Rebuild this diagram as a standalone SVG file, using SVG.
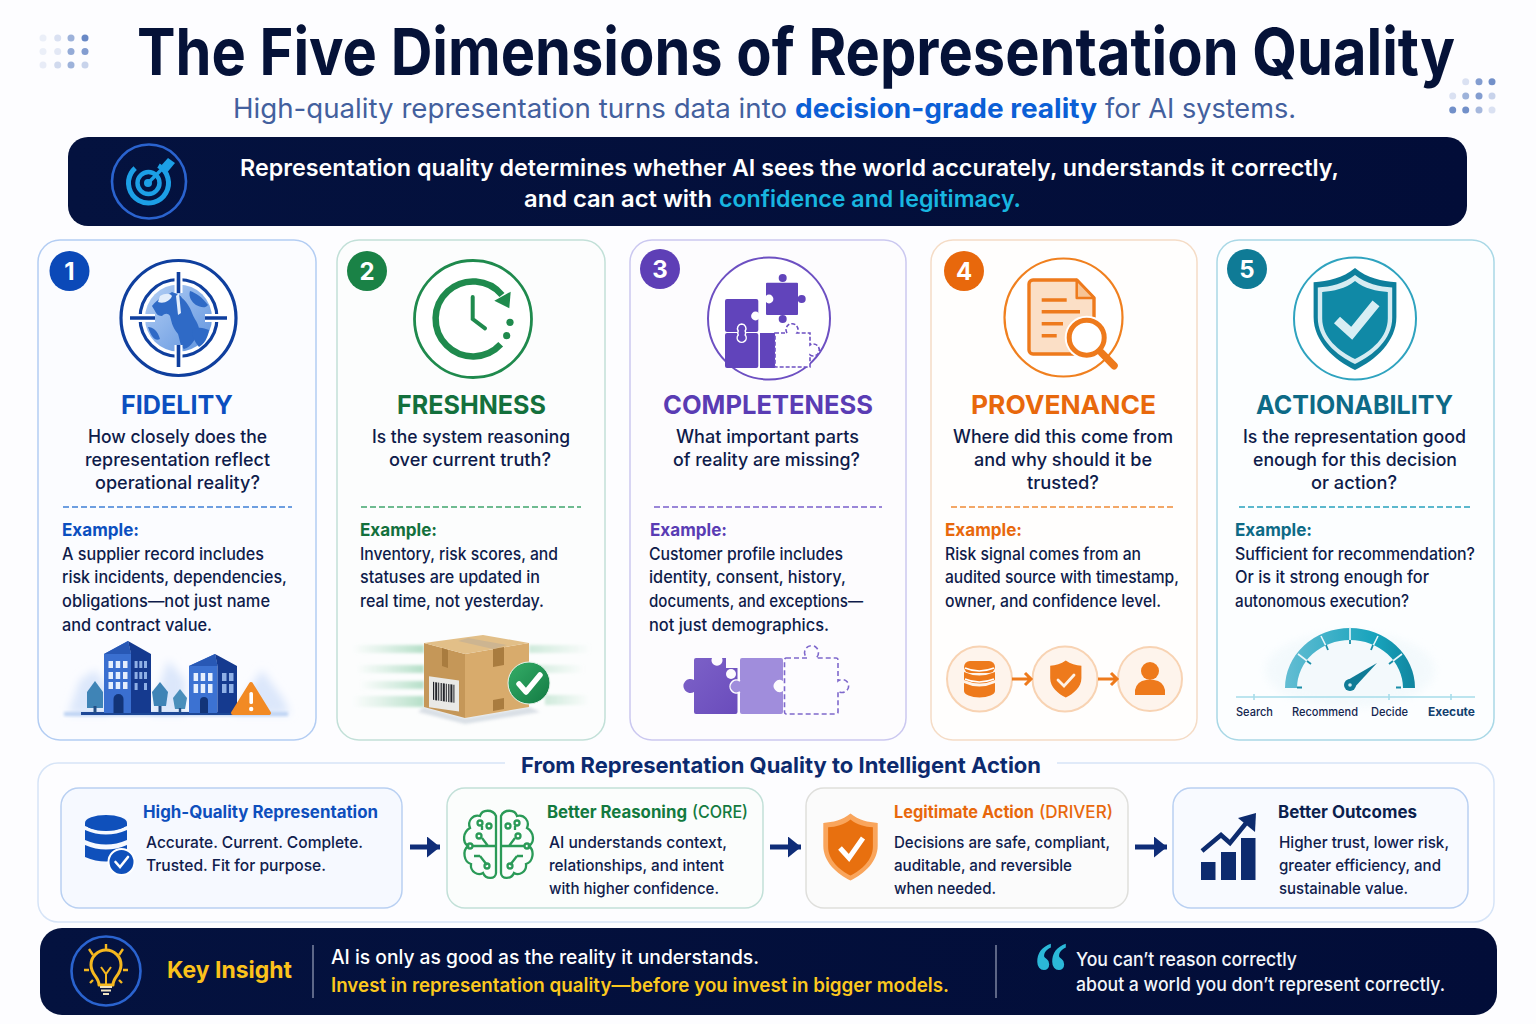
<svg xmlns="http://www.w3.org/2000/svg" width="1536" height="1024" viewBox="0 0 1536 1024">
<defs>
<style>
text{font-family:Inter,"Noto Sans","Liberation Sans",sans-serif}
.card{stroke-width:1.5}
.badge{font-size:24px;font-weight:700;fill:#fff;text-anchor:middle}
.t{font-size:26px;font-weight:700}
.q{font-size:18px;fill:#0e1b4a;font-weight:500}
.ex{font-size:17.5px;font-weight:700}
.b{font-size:16.8px;fill:#0e1b4a;font-weight:500}
.h{font-size:17px;font-weight:700}
.hr{font-size:17px;font-weight:500}
.fb{font-size:16.4px;fill:#10204d;font-weight:500}
.gl{font-size:12px;fill:#14264f;font-weight:500}
.dash{stroke-width:1.6;stroke-dasharray:6 3;fill:none}
</style>
<linearGradient id="dark" x1="0" x2="1" y1="0" y2="0"><stop offset="0" stop-color="#04123f"/><stop offset="1" stop-color="#020d38"/></linearGradient>
<linearGradient id="sl" x1="0" x2="1"><stop offset="0" stop-color="#bfe3cf" stop-opacity="0"/><stop offset="1" stop-color="#b5dfc8"/></linearGradient>
<linearGradient id="sr" x1="0" x2="1"><stop offset="0" stop-color="#cfeadb"/><stop offset="1" stop-color="#cfeadb" stop-opacity="0"/></linearGradient>
<linearGradient id="gauge" x1="0" x2="1"><stop offset="0" stop-color="#63bdd3"/><stop offset=".7" stop-color="#17a3bc"/><stop offset="1" stop-color="#12859f"/></linearGradient>
<linearGradient id="globe" x1="0" x2="1" y1="0" y2="1"><stop offset="0" stop-color="#b5d0f5"/><stop offset="1" stop-color="#5f93de"/></linearGradient>
<linearGradient id="ctick" x1="0" x2="1" y1="0" y2="1"><stop offset="0" stop-color="#35ae68"/><stop offset="1" stop-color="#137a43"/></linearGradient>
<linearGradient id="pf" x1="0" x2="1" y1="0" y2="1"><stop offset="0" stop-color="#7d62c8"/><stop offset="1" stop-color="#6a4cbc"/></linearGradient>
<filter id="soft" x="-20%" y="-20%" width="140%" height="140%"><feGaussianBlur stdDeviation="4"/></filter>
<filter id="soft2" x="-20%" y="-50%" width="140%" height="200%"><feGaussianBlur stdDeviation="1.6"/></filter>
<path id="shield" d="M0-50C12-40 26-37 40-36V-2C40 22 20 40 0 50C-20 40-40 22-40-2V-36C-26-37-12-40 0-50Z"/>
<marker id="arr" viewBox="0 0 13 21" markerWidth="13" markerHeight="21" refX="13" refY="10.5" orient="auto" markerUnits="userSpaceOnUse"><path d="M0 0L13 10.5L0 21Z" fill="#0f2d78"/></marker>
</defs>
<rect width="1536" height="1024" fill="#fdfdff"/>

<g id="header">
<g id="dots-left" fill="#4f74bc">
<circle cx="43" cy="38" r="3.5" opacity=".1"/><circle cx="57.7" cy="38" r="3.5" opacity=".2"/><circle cx="71" cy="38" r="3.5" opacity=".55"/><circle cx="85" cy="38" r="3.5" opacity=".85"/>
<circle cx="43" cy="51.5" r="3.5" opacity=".1"/><circle cx="57.7" cy="51.5" r="3.5" opacity=".15"/><circle cx="71" cy="51.5" r="3.5" opacity=".6"/><circle cx="85" cy="51.5" r="3.5" opacity=".7"/>
<circle cx="43" cy="65" r="3.5" opacity=".12"/><circle cx="57.7" cy="65" r="3.5" opacity=".25"/><circle cx="71" cy="65" r="3.5" opacity=".55"/><circle cx="85" cy="65" r="3.5" opacity=".3"/>
</g>
<g id="dots-right" fill="#4f74bc">
<circle cx="1465.7" cy="81.7" r="3.5" opacity=".2"/><circle cx="1479" cy="81.7" r="3.5" opacity=".7"/><circle cx="1492" cy="81.7" r="3.5" opacity=".8"/>
<circle cx="1452.7" cy="96" r="3.5" opacity=".2"/><circle cx="1465.7" cy="96" r="3.5" opacity=".55"/><circle cx="1479" cy="96" r="3.5" opacity=".7"/><circle cx="1492" cy="96" r="3.5" opacity=".3"/>
<circle cx="1452.7" cy="110" r="3.5" opacity=".8"/><circle cx="1465.7" cy="110" r="3.5" opacity=".8"/><circle cx="1479" cy="110" r="3.5" opacity=".5"/><circle cx="1492" cy="110" r="3.5" opacity=".2"/>
</g>
<text transform="translate(137 75) scale(1 1.07)" x="0" y="0" font-size="61" font-weight="700" fill="#051238" textLength="1318" lengthAdjust="spacingAndGlyphs">The Five Dimensions of Representation Quality</text>
<text x="233" y="118" font-size="27" fill="#43609e" textLength="554" lengthAdjust="spacingAndGlyphs">High-quality representation turns data into</text>
<text x="795" y="118" font-size="27" font-weight="700" fill="#0b5fd6" textLength="302" lengthAdjust="spacingAndGlyphs">decision-grade reality</text>
<text x="1105" y="118" font-size="27" fill="#43609e" textLength="191" lengthAdjust="spacingAndGlyphs">for AI systems.</text>
</g>

<g id="banner">
<rect x="68" y="137" width="1399" height="89" rx="20" fill="url(#dark)"/>
<circle cx="149" cy="181.5" r="37" fill="none" stroke="#2a63cf" stroke-width="2.6"/>
<circle cx="148.5" cy="183" r="20" fill="none" stroke="#1c9fe6" stroke-width="5" stroke-dasharray="100 26" transform="rotate(-60 148.5 183)"/>
<circle cx="148.5" cy="183" r="11" fill="none" stroke="#1c9fe6" stroke-width="4.5"/>
<circle cx="148" cy="183" r="4" fill="#1c9fe6"/>
<path d="M148 183L166 165" stroke="#1c9fe6" stroke-width="3.4"/>
<path d="M161.700 165L168 158 175 163 166.700 173Z" fill="#1c9fe6"/>
<text x="240" y="176" font-size="23.500" font-weight="600" fill="#fff" textLength="1099" lengthAdjust="spacingAndGlyphs">Representation quality determines whether AI sees the world accurately, understands it correctly,</text>
<text x="524" y="207" font-size="23.500" font-weight="600" fill="#fff" textLength="188" lengthAdjust="spacingAndGlyphs">and can act with</text>
<text x="719" y="207" font-size="23.500" font-weight="600" fill="#18b6e0" textLength="302" lengthAdjust="spacingAndGlyphs">confidence and legitimacy.</text>
</g>

<g id="card-fidelity">
<rect class="card" x="38" y="240" width="278" height="500" rx="22" fill="#fbfcff" stroke="#b3cdf3"/>
<circle cx="69.5" cy="271" r="20" fill="#0b49b8"/><text class="badge" x="69.5" y="280">1</text>
<circle cx="178.5" cy="318" r="57.5" fill="#fff" stroke="#0f3f9e" stroke-width="3.2"/>
<circle cx="178.5" cy="318" r="33.5" fill="url(#globe)"/>
<path d="M172 292c-6 4-14 6-20 14 4 6 4 10 10 10 3-3 6-3 8 0 2 8 3 12 8 18 2 6 2 12 6 15 8-2 10-10 14-14 4-8-3-14-6-22-2-6-6-12-10-15-1-3-6-4-10-6z" fill="#2f6ac6"/>
<path d="M190 291c6 2 12 6 18 14-3 4-8 2-12 0-4-3-8-8-6-14zM192 330c6-4 12-2 17 0-1 8-5 14-10 17-4-5-7-10-7-17zM148 327c5 0 10 4 12 12-3 2-6 0-8-3-2-3-3-6-4-9z" fill="#2f6ac6"/>
<path d="M160 296c5-3 10-3 12 0-2 5-8 8-14 6zM176 296l3-3 2 20-3 2z" fill="#e3edfb"/>
<circle cx="178.5" cy="318" r="38.5" fill="none" stroke="#0f3f9e" stroke-width="3.2"/>
<path d="M178.500 272V293M178.500 345V367M130 318H155M205 318H227" stroke="#fff" stroke-width="8"/>
<path d="M178.500 272V293M178.500 345V367M130 318H155M205 318H227" stroke="#0f3f9e" stroke-width="3.6"/>
<text class="t" x="121" y="414" fill="#0b4fc0" textLength="112" lengthAdjust="spacingAndGlyphs">FIDELITY</text>
<text class="q" x="88" y="443" textLength="179" lengthAdjust="spacingAndGlyphs">How closely does the</text>
<text class="q" x="85" y="466" textLength="185" lengthAdjust="spacingAndGlyphs">representation reflect</text>
<text class="q" x="95" y="489" textLength="165" lengthAdjust="spacingAndGlyphs">operational reality?</text>
<line class="dash" x1="63" y1="507" x2="292" y2="507" stroke="#3f7fd6"/>
<text class="ex" x="62" y="536" fill="#0b4fc0" textLength="77" lengthAdjust="spacingAndGlyphs">Example:</text>
<text class="b" x="62" y="560" textLength="202" lengthAdjust="spacingAndGlyphs">A supplier record includes</text>
<text class="b" x="62" y="583" textLength="225" lengthAdjust="spacingAndGlyphs">risk incidents, dependencies,</text>
<text class="b" x="62" y="607" textLength="208" lengthAdjust="spacingAndGlyphs">obligations—not just name</text>
<text class="b" x="62" y="631" textLength="150" lengthAdjust="spacingAndGlyphs">and contract value.</text>
<g id="city">
<path d="M68 714L80 680 95 670 110 690V714ZM150 714L168 660 185 680V714ZM232 714L262 670 284 700 290 714Z" fill="#dce7fb" filter="url(#soft)"/>
<rect x="64" y="712" width="224" height="4" fill="#bcd2f3" filter="url(#soft2)"/>
<rect x="81" y="712" width="170" height="3" fill="#1d4796"/>
<path d="M104 654L128 641 131 654V713H104Z" fill="#3a6fd0"/><path d="M128 641L151 654V713H131V654Z" fill="#153a8f"/>
<path d="M104 654L128 641 131 654Z" fill="#2858b5"/>
<path d="M108.500 661h4.500v7h-4.500zM115.700 661h4.500v7h-4.500zM123 661h4.500v7H123zM108.500 672h4.500v7h-4.500zM115.700 672h4.500v7h-4.500zM123 672h4.500v7H123zM108.500 682h4.500v7h-4.500zM115.700 682h4.500v7h-4.500zM123 682h4.500v7H123z" fill="#e6effd"/>
<path d="M134.600 661h3v7h-3zM139.300 661h3v7h-3zM144 661h3v7h-3zM134.600 672h3v7h-3zM139.300 672h3v7h-3zM144 672h3v7h-3zM134.600 683h3v7h-3zM144 683h3v7h-3z" fill="#8fb0e6"/>
<path d="M113.500 713V699a5 5 0 0 1 10 0V713Z" fill="#123478"/>
<path d="M189 666L215 654 217.500 666V713H189Z" fill="#3c72d2"/><path d="M215 654L237 666V713H217.500V666Z" fill="#153a8f"/>
<path d="M189 666L215 654 217.500 666Z" fill="#2858b5"/>
<path d="M193.600 673h4.500v8h-4.500zM200.700 673h4.500v8h-4.500zM208 673h4.500v8H208zM193.600 684h4.500v9h-4.500zM200.700 684h4.500v9h-4.500zM208 684h4.500v9H208z" fill="#e6effd"/>
<path d="M222 673h4.500v8H222zM229 673h4.500v8H229zM222 684h4.500v9H222zM229 684h4.500v9H229z" fill="#8fb0e6"/>
<path d="M200 713V701a4 4 0 0 1 8 0V713Z" fill="#123478"/>
<path d="M95 681L103 692V708H87V692Z" fill="#3f84b6"/><path d="M93.500 706h3v7h-3z" fill="#244f86"/>
<path d="M160 682L168 692 166 706H154L152 692Z" fill="#3f84b6"/><path d="M158.500 706h3v7h-3z" fill="#244f86"/>
<path d="M180 689L187 698 185 709H175L173 698Z" fill="#4a8fbb"/><path d="M178.800 708h2.400v5h-2.400z" fill="#244f86"/>
<path d="M251 684L269 713H233Z" fill="#f28a24" stroke="#f28a24" stroke-width="4" stroke-linejoin="round"/>
<rect x="249.400" y="692" width="3.600" height="12" rx="1.600" fill="#fff"/><circle cx="251.200" cy="709" r="2.200" fill="#fff"/>
</g>
</g>

<g id="card-freshness">
<rect class="card" x="337" y="240" width="268" height="500" rx="22" fill="#fcfdfd" stroke="#c2e0d8"/>
<circle cx="367" cy="271" r="20" fill="#1a8246"/><text class="badge" x="367" y="280">2</text>
<circle cx="473" cy="319" r="58.500" fill="#fff" stroke="#1f8a4d" stroke-width="2.800"/>
<path d="M500.700 344.300A37.500 37.500 0 1 1 502 295" fill="none" stroke="#1f8a4d" stroke-width="6.500"/>
<path d="M494.300 300.700L510.700 291.700 509.300 308.300Z" fill="#1f8a4d"/>
<circle cx="510" cy="322.300" r="3.600" fill="#1f8a4d"/><circle cx="506.700" cy="335.700" r="3.600" fill="#1f8a4d"/>
<path d="M472.700 297V319L485 328.300" fill="none" stroke="#1f8a4d" stroke-width="4" stroke-linecap="round"/>
<text class="t" x="397" y="414" fill="#13703c" textLength="149" lengthAdjust="spacingAndGlyphs">FRESHNESS</text>
<text class="q" x="372" y="443" textLength="198" lengthAdjust="spacingAndGlyphs">Is the system reasoning</text>
<text class="q" x="389" y="466" textLength="162" lengthAdjust="spacingAndGlyphs">over current truth?</text>
<line class="dash" x1="361" y1="507" x2="581" y2="507" stroke="#3fa56c"/>
<text class="ex" x="360" y="536" fill="#13703c" textLength="77" lengthAdjust="spacingAndGlyphs">Example:</text>
<text class="b" x="360" y="560" textLength="198" lengthAdjust="spacingAndGlyphs">Inventory, risk scores, and</text>
<text class="b" x="360" y="583" textLength="180" lengthAdjust="spacingAndGlyphs">statuses are updated in</text>
<text class="b" x="360" y="607" textLength="184" lengthAdjust="spacingAndGlyphs">real time, not yesterday.</text>
<g id="package">
<g filter="url(#soft2)"><rect x="352" y="645" width="72" height="8" fill="url(#sl)"/><rect x="356" y="665" width="68" height="8" fill="url(#sl)"/><rect x="360" y="681" width="64" height="8" fill="url(#sl)"/><rect x="352" y="696" width="72" height="11" fill="url(#sl)"/>
<rect x="529" y="645" width="62" height="8" fill="url(#sr)"/><rect x="529" y="665" width="55" height="8" fill="url(#sr)"/><rect x="545" y="695" width="45" height="10" fill="url(#sr)"/></g>
<path d="M424 707L465 718 529 707 540 712 465 724 418 712Z" fill="#b7c2cf" opacity=".5" filter="url(#soft2)"/>
<path d="M424 643L465 654V718L424 707Z" fill="#c59758"/><path d="M465 654L529 643V707L465 718Z" fill="#d8ab6c"/><path d="M424 643L483 635 529 643 465 654Z" fill="#e2bf88"/>
<path d="M442 648L448 650V668L442 666ZM493 649L504 647V665L493 667ZM493 700L504 698V709L493 711Z" fill="#a97c3f"/>
<path d="M458 641L468 638 507 645 493 649Z" fill="#cdb591"/>
<g transform="skewY(8) translate(0 -61)"><rect x="429" y="677" width="30" height="31" fill="#e9e9e6"/><line x1="433" y1="691" x2="455" y2="691" stroke="#22242a" stroke-width="18" stroke-dasharray="1.200 1 2 1 1 1.400"/></g>
<circle cx="529" cy="683" r="21" fill="url(#ctick)" stroke="#e8f4ec" stroke-width="1"/>
<path d="M519 684L526 692 540 675" fill="none" stroke="#fff" stroke-width="5.500" stroke-linecap="round" stroke-linejoin="round"/>
</g>
</g>

<g id="card-completeness">
<rect class="card" x="630" y="240" width="276" height="500" rx="22" fill="#fdfcfe" stroke="#cbc8f0"/>
<circle cx="660" cy="269" r="20" fill="#5e3fb6"/><text class="badge" x="660" y="278">3</text>
<circle cx="769" cy="318.500" r="61" fill="#fff" stroke="#6d50c2" stroke-width="2"/>
<g fill="#6144bb">
<rect x="725" y="299" width="33.300" height="33" rx="2"/><rect x="725" y="333" width="33.300" height="35" rx="2"/><rect x="760" y="333" width="15" height="35"/>
<circle cx="775" cy="350" r="4.500"/>
<rect x="766" y="282.700" width="32" height="32.300" rx="1"/><circle cx="782.700" cy="278" r="4"/><circle cx="801.700" cy="299" r="4"/><circle cx="782.700" cy="319" r="4"/>
</g>
<circle cx="769" cy="299" r="4.400" fill="#fff"/><circle cx="755.500" cy="316" r="4.400" fill="#fff"/>
<path d="M741.700 324a4.500 4.500 0 0 0-3.500 7 4.500 4.500 0 0 0 0 4 4.500 4.500 0 1 0 7 0 4.500 4.500 0 0 0 0-4 4.500 4.500 0 0 0-3.500-7z" fill="#6144bb" stroke="#fff" stroke-width="1.500"/>
<path d="M775 333H787A6 6 0 1 1 797 333H810V345A6 6 0 1 1 810 355V367H775Z" fill="#fff" stroke="#6d50c2" stroke-width="1.600" stroke-dasharray="4 2"/>
<text class="t" x="663" y="414" fill="#5a3cb4" textLength="210" lengthAdjust="spacingAndGlyphs">COMPLETENESS</text>
<text class="q" x="676" y="443" textLength="183" lengthAdjust="spacingAndGlyphs">What important parts</text>
<text class="q" x="673" y="466" textLength="187" lengthAdjust="spacingAndGlyphs">of reality are missing?</text>
<line class="dash" x1="654" y1="507" x2="882" y2="507" stroke="#7a5fcc"/>
<text class="ex" x="650" y="536" fill="#5a3cb4" textLength="77" lengthAdjust="spacingAndGlyphs">Example:</text>
<text class="b" x="649" y="560" textLength="194" lengthAdjust="spacingAndGlyphs">Customer profile includes</text>
<text class="b" x="649" y="583" textLength="197" lengthAdjust="spacingAndGlyphs">identity, consent, history,</text>
<text class="b" x="649" y="607" textLength="214" lengthAdjust="spacingAndGlyphs">documents, and exceptions—</text>
<text class="b" x="649" y="631" textLength="180" lengthAdjust="spacingAndGlyphs">not just demographics.</text>
<g id="puzzle">
<path d="M696 658H712A5.500 5.500 0 1 0 722 658H726V668H737.500V712A2 2 0 0 1 735.500 714H696A2 2 0 0 1 694 712V692A7 7 0 1 1 694 680V660A2 2 0 0 1 696 658Z" fill="url(#pf)"/>
<circle cx="731" cy="674" r="5" fill="#fdfcfe"/>
<path d="M742 658H781A2 2 0 0 1 783 660V681A6 6 0 1 0 783 691V712A2 2 0 0 1 781 714H742A2 2 0 0 1 740 712V692A6.500 6.500 0 1 1 740 681V660A2 2 0 0 1 742 658Z" fill="#a08ddc"/>
<path d="M740 692A6.500 6.500 0 1 1 740 681" fill="none" stroke="#fdfcfe" stroke-width="1.500"/>
<path d="M786 658H807A7 7 0 1 1 816 658H836A2 2 0 0 1 838 660V681A6.500 6.500 0 1 1 838 691V712A2 2 0 0 1 836 714H786A2 2 0 0 1 784.500 712V660A2 2 0 0 1 786 658Z" fill="#fdfcff" stroke="#7f68cc" stroke-width="1.600" stroke-dasharray="5 3"/>
</g>
</g>

<g id="card-provenance">
<rect class="card" x="931" y="240" width="266" height="500" rx="22" fill="#fffefd" stroke="#f5dcc6"/>
<circle cx="964" cy="271" r="20" fill="#e8680c"/><text class="badge" x="964" y="280">4</text>
<circle cx="1063.500" cy="317.500" r="59" fill="#fff" stroke="#f0801f" stroke-width="2.200"/>
<path d="M1033 280H1076.700L1094 298V350A4 4 0 0 1 1090 354H1033A4 4 0 0 1 1029 350V284A4 4 0 0 1 1033 280Z" fill="#fbdfc6" stroke="#ee7a1c" stroke-width="3.400" stroke-linejoin="round"/>
<path d="M1076.700 280L1094 298H1076.700Z" fill="#f7c495" stroke="#ee7a1c" stroke-width="2.500" stroke-linejoin="round"/>
<path d="M1041.700 300H1066.700M1041.700 311.700H1080M1041.700 323.700H1063M1041.700 335.700H1056.700" stroke="#ee7a1c" stroke-width="3.400"/>
<circle cx="1086.700" cy="337.700" r="22" fill="#fff"/>
<circle cx="1086.700" cy="337.700" r="17.500" fill="#fff" stroke="#ee7a1c" stroke-width="5"/>
<path d="M1101.700 353L1114 365.700" stroke="#ee7a1c" stroke-width="7.500" stroke-linecap="round"/>
<text class="t" x="971" y="414" fill="#e8680c" textLength="185" lengthAdjust="spacingAndGlyphs">PROVENANCE</text>
<text class="q" x="953" y="443" textLength="220" lengthAdjust="spacingAndGlyphs">Where did this come from</text>
<text class="q" x="974" y="466" textLength="178" lengthAdjust="spacingAndGlyphs">and why should it be</text>
<text class="q" x="1027" y="489" textLength="72" lengthAdjust="spacingAndGlyphs">trusted?</text>
<line class="dash" x1="951" y1="507" x2="1175" y2="507" stroke="#ef8a36"/>
<text class="ex" x="945" y="536" fill="#e8680c" textLength="77" lengthAdjust="spacingAndGlyphs">Example:</text>
<text class="b" x="945" y="560" textLength="196" lengthAdjust="spacingAndGlyphs">Risk signal comes from an</text>
<text class="b" x="945" y="583" textLength="234" lengthAdjust="spacingAndGlyphs">audited source with timestamp,</text>
<text class="b" x="945" y="607" textLength="216" lengthAdjust="spacingAndGlyphs">owner, and confidence level.</text>
<g id="chain">
<circle cx="979.500" cy="679" r="32.500" fill="#fef4ec" stroke="#f8d3b3" stroke-width="2"/>
<circle cx="1065" cy="679" r="32.500" fill="#fef4ec" stroke="#f8d3b3" stroke-width="2"/>
<circle cx="1150" cy="679" r="32" fill="#fef4ec" stroke="#f8d3b3" stroke-width="2"/>
<g fill="#ee7a1c"><rect x="964" y="661" width="31" height="12" rx="6"/><path d="M964 672q15 7 31 0v8q-15 7-31 0z"/><path d="M964 683q15 7 31 0v8a12 5 0 0 1-31 0z"/></g>
<path d="M965 668q14 6 29 0M965 679q14 6 29 0" fill="none" stroke="#fff" stroke-width="1.500"/>
<use href="#shield" transform="translate(1065.800 679) scale(.39 .37)" fill="#ee7a1c"/>
<path d="M1058 680L1064 686 1074 675" fill="none" stroke="#fdf1e6" stroke-width="2.800" stroke-linecap="round"/>
<circle cx="1150" cy="671" r="9" fill="#ee7a1c"/><path d="M1135 695V690Q1137 681 1146 680H1154Q1163 681 1165 690V695Z" fill="#ee7a1c"/>
<path d="M1012 679H1031M1025 673L1031 679 1025 685M1098 679H1117M1111 673L1117 679 1111 685" fill="none" stroke="#ee7a1c" stroke-width="3"/>
</g>
</g>

<g id="card-actionability">
<rect class="card" x="1217" y="240" width="277" height="500" rx="22" fill="#fcfeff" stroke="#a9d8e6"/>
<circle cx="1247" cy="269" r="20" fill="#0f7b96"/><text class="badge" x="1247" y="278">5</text>
<circle cx="1355" cy="318.500" r="61" fill="#fff" stroke="#2fa3bf" stroke-width="2"/>
<use href="#shield" transform="translate(1355 319) scale(1.035 1.02)" fill="#0e7f9c"/>
<use href="#shield" transform="translate(1355 319.500) scale(.93 .89)" fill="#d6ecf2"/>
<use href="#shield" transform="translate(1355 320) scale(.82 .78)" fill="#1089a6"/>
<path d="M1337 320L1351.700 333.300 1376 303.300" fill="none" stroke="#d8eef4" stroke-width="9"/>
<text class="t" x="1256" y="414" fill="#0d6a86" textLength="197" lengthAdjust="spacingAndGlyphs">ACTIONABILITY</text>
<text class="q" x="1243" y="443" textLength="223" lengthAdjust="spacingAndGlyphs">Is the representation good</text>
<text class="q" x="1253" y="466" textLength="204" lengthAdjust="spacingAndGlyphs">enough for this decision</text>
<text class="q" x="1311" y="489" textLength="86" lengthAdjust="spacingAndGlyphs">or action?</text>
<line class="dash" x1="1239" y1="507" x2="1471" y2="507" stroke="#27a1bd"/>
<text class="ex" x="1235" y="536" fill="#0d6a86" textLength="77" lengthAdjust="spacingAndGlyphs">Example:</text>
<text class="b" x="1235" y="560" textLength="240" lengthAdjust="spacingAndGlyphs">Sufficient for recommendation?</text>
<text class="b" x="1235" y="583" textLength="194" lengthAdjust="spacingAndGlyphs">Or is it strong enough for</text>
<text class="b" x="1235" y="607" textLength="174" lengthAdjust="spacingAndGlyphs">autonomous execution?</text>
<g id="gauge-meter">
<ellipse cx="1350" cy="670" rx="85" ry="38" fill="#eef7fb" opacity=".6" filter="url(#soft)"/>
<path d="M1285 688A65 60 0 0 1 1415 688H1403A53 48 0 0 0 1297 688Z" fill="url(#gauge)"/>
<path d="M1350 627V644M1321 636L1328 650M1298 654L1311 664M1378 636L1371 650M1402 654L1389 664" stroke="#e9f6fa" stroke-width="1.600"/>
<path d="M1350 640V644M1326 645L1328 650M1307 661L1311 664M1373 645L1371 650M1393 661L1389 664M1297 687.500H1302M1396 687.500H1401" stroke="#1a8ea8" stroke-width="1.800"/>
<path d="M1346 681L1377 663 1353 689Z" fill="#0f7b96"/><circle cx="1350" cy="685" r="6" fill="#0f7b96"/><circle cx="1350" cy="685" r="1.800" fill="#cfe9f0"/>
<line x1="1236" y1="697" x2="1475" y2="697" stroke="#a7dcea" stroke-width="1.600"/>
<path d="M1254 694V700M1389 694V700M1451 694V700" stroke="#a7dcea" stroke-width="1.600"/>
<text class="gl" x="1236" y="716" textLength="37" lengthAdjust="spacingAndGlyphs">Search</text>
<text class="gl" x="1292" y="716" textLength="66" lengthAdjust="spacingAndGlyphs">Recommend</text>
<text class="gl" x="1371" y="716" textLength="37" lengthAdjust="spacingAndGlyphs">Decide</text>
<text class="gl" x="1428" y="716" style="font-weight:700;fill:#12406e" textLength="47" lengthAdjust="spacingAndGlyphs">Execute</text>
</g>
</g>

<g id="flow-panel">
<rect x="38" y="763" width="1456" height="159" rx="20" fill="#fdfdff" stroke="#d6e4f7" stroke-width="1.500"/>
<rect x="505" y="755" width="552" height="18" fill="#fdfdff"/>
<text x="521" y="773" font-size="22" font-weight="700" fill="#0c2a6e" textLength="520" lengthAdjust="spacingAndGlyphs">From Representation Quality to Intelligent Action</text>
</g>

<g id="flow-representation">
<rect x="61" y="788" width="341" height="120" rx="18" fill="#f6f9ff" stroke="#b9d0f2" stroke-width="1.500"/>
<g fill="#0f50bb"><ellipse cx="106" cy="823" rx="21" ry="8"/><path d="M85 830q21 9 42 0v10q-21 9-42 0z"/><path d="M85 845q21 9 42 0v12q-21 9-42 0z"/><path d="M85 823h42v3q-21 9-42 0z"/></g>
<circle cx="121.500" cy="862" r="13" fill="#0f50bb" stroke="#fff" stroke-width="2"/>
<path d="M115.500 862L120 867 128 857" fill="none" stroke="#fff" stroke-width="2.600" stroke-linecap="round"/>
<text class="h" x="143" y="818" fill="#0e4fbd" textLength="235" lengthAdjust="spacingAndGlyphs">High-Quality Representation</text>
<text class="fb" x="146" y="848" textLength="217" lengthAdjust="spacingAndGlyphs">Accurate. Current. Complete.</text>
<text class="fb" x="146" y="871" textLength="180" lengthAdjust="spacingAndGlyphs">Trusted. Fit for purpose.</text>
</g>

<g id="flow-reasoning">
<rect x="447" y="788" width="316" height="120" rx="18" fill="#fbfdfc" stroke="#c2e0d8" stroke-width="1.500"/>
<g fill="none" stroke="#2a9a57" stroke-width="2.300">
<g id="brain-half"><path d="M496 816C493 809 482 809 480 816C473 814 467 821 470 828C463 832 462 842 468 846C462 851 464 862 471 864C470 872 478 876 483 873C486 880 496 879 496 873Z"/>
<path d="M496 846H472M488 846L482 838M482 830V826M487 865L480 856M474 856H480"/><circle cx="480" cy="823" r="2.500"/><circle cx="479" cy="836" r="2.500"/><circle cx="489" cy="826" r="2.500"/><circle cx="470" cy="846" r="2.500"/><circle cx="487" cy="866" r="2.500"/></g>
<use href="#brain-half" transform="matrix(-1 0 0 1 997 0)"/>
</g>
<text class="h" x="547" y="818" fill="#137a3f" textLength="140" lengthAdjust="spacingAndGlyphs">Better Reasoning</text>
<text class="hr" x="692" y="818" fill="#137a3f" textLength="56" lengthAdjust="spacingAndGlyphs">(CORE)</text>
<text class="fb" x="549" y="848" textLength="178" lengthAdjust="spacingAndGlyphs">AI understands context,</text>
<text class="fb" x="549" y="871" textLength="175" lengthAdjust="spacingAndGlyphs">relationships, and intent</text>
<text class="fb" x="549" y="894" textLength="170" lengthAdjust="spacingAndGlyphs">with higher confidence.</text>
</g>

<g id="flow-action">
<rect x="806" y="788" width="322" height="120" rx="18" fill="#fbfbfb" stroke="#dfdfdc" stroke-width="1.500"/>
<use href="#shield" transform="translate(850.500 847) scale(.68 .67)" fill="#f9a55c"/>
<use href="#shield" transform="translate(850.500 847.500) scale(.56 .56)" fill="#e8700f"/>
<path d="M840 848L849 858 863 838" fill="none" stroke="#fff" stroke-width="5"/>
<text class="h" x="894" y="818" fill="#e8680c" textLength="140" lengthAdjust="spacingAndGlyphs">Legitimate Action</text>
<text class="hr" x="1039" y="818" fill="#e8680c" textLength="74" lengthAdjust="spacingAndGlyphs">(DRIVER)</text>
<text class="fb" x="894" y="848" textLength="216" lengthAdjust="spacingAndGlyphs">Decisions are safe, compliant,</text>
<text class="fb" x="894" y="871" textLength="178" lengthAdjust="spacingAndGlyphs">auditable, and reversible</text>
<text class="fb" x="894" y="894" textLength="102" lengthAdjust="spacingAndGlyphs">when needed.</text>
</g>

<g id="flow-outcomes">
<rect x="1173" y="788" width="295" height="120" rx="18" fill="#f8faff" stroke="#b9d0f2" stroke-width="1.500"/>
<g fill="#0d2b6e"><rect x="1201" y="862" width="14.500" height="18"/><rect x="1221" y="852" width="15" height="28"/><rect x="1241" y="838" width="14.500" height="42"/>
<path d="M1202 851L1221 835 1230 843 1247 822" fill="none" stroke="#0d2b6e" stroke-width="4.500"/><path d="M1238 818L1256 813 1255 832Z"/></g>
<text class="h" x="1278" y="818" fill="#0c1f4e" textLength="139" lengthAdjust="spacingAndGlyphs">Better Outcomes</text>
<text class="fb" x="1279" y="848" textLength="170" lengthAdjust="spacingAndGlyphs">Higher trust, lower risk,</text>
<text class="fb" x="1279" y="871" textLength="162" lengthAdjust="spacingAndGlyphs">greater efficiency, and</text>
<text class="fb" x="1279" y="894" textLength="129" lengthAdjust="spacingAndGlyphs">sustainable value.</text>
</g>

<g id="connectors" fill="none" stroke="#0f2d78" stroke-width="5">
<path d="M410 847H440" marker-end="url(#arr)"/>
<path d="M770 847H801" marker-end="url(#arr)"/>
<path d="M1135 847H1167" marker-end="url(#arr)"/>
</g>

<g id="key-insight">
<rect x="40" y="928" width="1457" height="87" rx="22" fill="url(#dark)"/>
<circle cx="106" cy="971" r="34.500" fill="none" stroke="#2a63cf" stroke-width="2.600"/>
<path d="M99 985C99 977 91 975 91 965A15 15 0 0 1 121 965C121 975 113 977 113 985Z" fill="none" stroke="#f5b81f" stroke-width="3" stroke-linejoin="round"/>
<path d="M101 967L106 974 111 967M106 974V985" fill="none" stroke="#f5b81f" stroke-width="2"/>
<path d="M100 987H112M101 990.500H111M103 994H109" stroke="#f0e3c0" stroke-width="2"/>
<path d="M106 944V950M89 949L93 955M123 949L119 955M84 970H89M123 970H128M90 983L93 980M122 983L119 980" stroke="#f5b81f" stroke-width="2.400"/>
<text x="167" y="978" font-size="23.500" font-weight="700" fill="#fbc21b" textLength="125" lengthAdjust="spacingAndGlyphs">Key Insight</text>
<line x1="313" y1="945" x2="313" y2="998" stroke="#8e97b0" stroke-width="1.300"/>
<text x="331" y="964" font-size="19.500" font-weight="500" fill="#fff" textLength="428" lengthAdjust="spacingAndGlyphs">AI is only as good as the reality it understands.</text>
<text x="331" y="992" font-size="19.500" font-weight="600" fill="#fbc81e" textLength="618" lengthAdjust="spacingAndGlyphs">Invest in representation quality—before you invest in bigger models.</text>
<line x1="996" y1="945" x2="996" y2="998" stroke="#8e97b0" stroke-width="1.300"/>
<text x="1034" y="1002" font-size="86" font-weight="700" fill="#2bb8d8" style="font-family:'Liberation Serif',serif" textLength="34" lengthAdjust="spacingAndGlyphs">“</text>
<text x="1076" y="966" font-size="19" font-weight="500" fill="#f2f5fb" textLength="221" lengthAdjust="spacingAndGlyphs">You can’t reason correctly</text>
<text x="1076" y="991" font-size="19" font-weight="500" fill="#f2f5fb" textLength="369" lengthAdjust="spacingAndGlyphs">about a world you don’t represent correctly.</text>
</g>
</svg>
